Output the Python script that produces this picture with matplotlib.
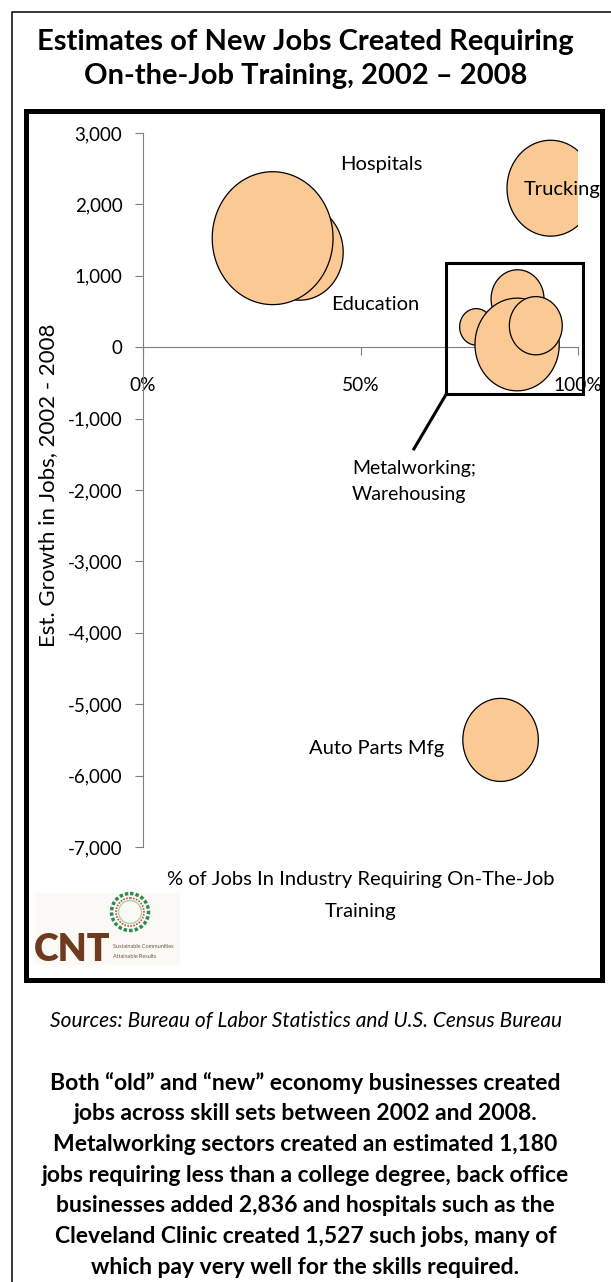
import matplotlib
matplotlib.use("Agg")
import matplotlib.pyplot as plt
from matplotlib.path import Path
from matplotlib.markers import MarkerStyle
from matplotlib.patches import Rectangle, Circle
import numpy as np

plt.rcParams['font.family'] = ['Lato', 'DejaVu Sans']

# data
industries = ["Education", "Hospitals", "Trucking", "Metalworking 1",
              "Metalworking 2", "Warehousing 1", "Warehousing 2", "Auto Parts Mfg"]
pct_otj = [0.36, 0.298, 0.937, 0.861, 0.766, 0.860, 0.903, 0.822]
job_growth = [1330, 1527, 2227, 677, 285, 38, 301, -5500]
bubble_size = [76, 146, 76, 28, 11, 71, 28, 57]

y_ticks = [-7000, -6000, -5000, -4000, -3000, -2000, -1000, 0, 1000, 2000, 3000]
x_ticks = [0, 0.5, 1.0]
x_ticklabels = ["0%", "50%", "100%"]

W, H = 611, 1282
fig = plt.figure(figsize=(W / 100, H / 100), dpi=100)

ax = fig.add_axes([143 / W, 1 - 847 / H, 435 / W, 714 / H])
ax.set_facecolor('none')
ax.set_xlim(0, 1)
ax.set_ylim(-7000, 3000)

# bubble marker, slightly taller than wide like the original
t = np.linspace(0, 2 * np.pi, 120)
ell = MarkerStyle(Path(np.column_stack([np.cos(t) / 1.1, np.sin(t)]), closed=True))
s = [(1.1 * 10 * np.sqrt(v) * 0.72) ** 2 for v in bubble_size]
ax.scatter(pct_otj, job_growth, s=s, marker=ell, facecolor='#FBC993',
           edgecolor='black', linewidth=0.9, zorder=3)

gray = '#7f7f7f'
for side in ['top', 'right']:
    ax.spines[side].set_visible(False)
ax.spines['bottom'].set_position(('data', 0))
for side in ['left', 'bottom']:
    ax.spines[side].set_color(gray)
    ax.spines[side].set_linewidth(0.8)

ax.set_yticks(y_ticks)
ax.set_yticklabels([f"{v:,}" for v in y_ticks])
ax.set_xticks(x_ticks)
ax.set_xticklabels(x_ticklabels)
ax.tick_params(axis='x', direction='out', length=5.8, width=0.8, color=gray,
               pad=16, labelsize=13.8)
ax.tick_params(axis='y', direction='out', length=5.8, width=0.8, color=gray,
               pad=9, labelsize=13.5)

ax.text(-0.218, 0.506, "Est. Growth in Jobs, 2002 - 2008", transform=ax.transAxes,
        rotation=90, ha='center', va='center', fontsize=16)

ax.text(0.5, -0.046, "% of Jobs In Industry Requiring On-The-Job", transform=ax.transAxes,
        ha='center', va='center', fontsize=14.5)
ax.text(0.5, -0.091, "Training", transform=ax.transAxes,
        ha='center', va='center', fontsize=14.5)

# labels
ax.text(0.548, 2563, "Hospitals", ha='center', va='center', fontsize=14.5)
ax.text(0.533, 600, "Education", ha='center', va='center', fontsize=14.5)
ax.text(0.963, 2210, "Trucking", ha='center', va='center', fontsize=14.5, zorder=5)
ax.text(0.48, -1877, "Metalworking;\nWarehousing", ha='left', va='center',
        fontsize=14, linespacing=1.65)
ax.text(0.536, -5616, "Auto Parts Mfg", ha='center', va='center', fontsize=14.5)

# call-out box around the cluster
ax.add_patch(Rectangle((0.697, -658), 0.314, 1834, fill=False, lw=2.2,
                       edgecolor='black', clip_on=False, zorder=4))
ax.plot([0.697, 0.621], [-658, -1443], color='black', lw=2.2, clip_on=False,
        solid_capstyle='butt', zorder=4)

# page decoration in pixel coordinates
deco = fig.add_axes([0, 0, 1, 1], zorder=-1)
deco.set_xlim(0, W)
deco.set_ylim(H, 0)
deco.axis('off')

deco.plot([12, 12, W + 5], [H + 5, 12, 12], color='black', lw=1.1)
deco.add_patch(Rectangle((26, 110.5), 576, 869.5, fill=False, lw=3.6, edgecolor='black'))

deco.text(W / 2, 42, "Estimates of New Jobs Created Requiring", ha='center', va='center',
          fontsize=21, fontweight='bold')
deco.text(W / 2, 76, "On-the-Job Training, 2002 \u2013 2008", ha='center', va='center',
          fontsize=21, fontweight='bold')

# CNT logo
deco.add_patch(Rectangle((35, 893), 145, 72, facecolor='#faf9f6', edgecolor='none'))
deco.text(34, 961, "CNT", ha='left', va='baseline', fontsize=27, fontweight='heavy',
          color='#6e3b1f')
deco.add_patch(Circle((130, 912), 18.5, fill=False, edgecolor='#2f8a4e', lw=2.5, ls=(0, (1, 0.6))))
deco.add_patch(Circle((130, 912), 14, fill=False, edgecolor='#b4563c', lw=1.2, ls=(0, (1, 0.8))))
deco.add_patch(Circle((130, 912), 11.5, fill=False, edgecolor='#a6d3a0', lw=1))
deco.text(113, 946, "Sustainable Communities", ha='left', va='center', fontsize=4,
          color='#6b5a3a')
deco.text(113, 956, "Attainable Results", ha='left', va='center', fontsize=4,
          color='#6b5a3a')

deco.text(W / 2, 1021, "Sources: Bureau of Labor Statistics and U.S. Census Bureau",
          ha='center', va='center', fontsize=15, style='italic')

para = ["Both \u201cold\u201d and \u201cnew\u201d economy businesses created",
        "jobs across skill sets between 2002 and 2008.",
        "Metalworking sectors created an estimated 1,180",
        "jobs requiring less than a college degree, back office",
        "businesses added 2,836 and hospitals such as the",
        "Cleveland Clinic created 1,527 such jobs, many of",
        "which pay very well for the skills required."]
for i, line in enumerate(para):
    deco.text(W / 2, 1083 + i * 30.7, line, ha='center', va='center',
              fontsize=16.5, fontweight='bold')

fig.savefig("out.png", dpi=100)
